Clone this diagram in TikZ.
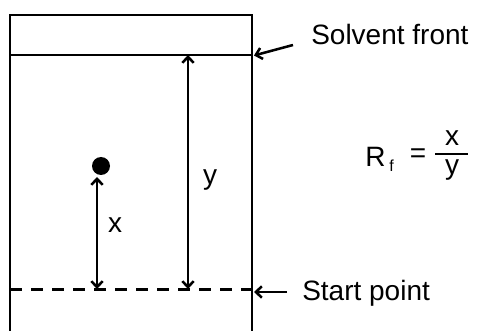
\documentclass[tikz,border=0pt]{standalone}
\usepackage{fontspec}
\setmainfont{Liberation Sans}
\usetikzlibrary{arrows.meta}
\begin{document}
\begin{tikzpicture}[x=0.75pt,y=-0.75pt,line width=1.9pt,
  lbl/.style={font=\fontsize{21}{24}\selectfont,inner sep=0pt},
  sublbl/.style={font=\fontsize{12}{14}\selectfont,inner sep=0pt},
  barb/.style={{Straight Barb[length=4.5pt,width=8.5pt]}-{Straight Barb[length=4.5pt,width=8.5pt]}},
  onebarb/.style={-{Straight Barb[length=4.5pt,width=8.5pt]}},
  startline/.style={line width=2.2pt,dash pattern=on 9pt off 6.75pt}]
\useasboundingbox (0,0) rectangle (481,331);
% plate
\coordinate (tl) at (10,15);
\coordinate (tr) at (252,15);
\coordinate (bl) at (10,331);
\coordinate (br) at (252,331);
\draw (bl) -- (tl) -- (tr) -- (br);
% solvent front line
\coordinate (fl) at (10,55);
\coordinate (fr) at (252,55);
\draw (fl) -- (fr);
% start line
\coordinate (sl) at (10,289.5);
\coordinate (sr) at (252,289.5);
\draw[startline] (sl) -- (sr);
% spot
\node[circle,fill,inner sep=0pt,minimum size=13.5pt] (spot) at (101,166) {};
% x arrow
\coordinate (xtop) at (97,177);
\coordinate (xbot) at (97,289);
\draw[barb] (xtop) -- (xbot);
\node[lbl,anchor=base] (xl) at (115,233) {x};
% y arrow
\coordinate (ytop) at (188,55);
\coordinate (ybot) at (188,289);
\draw[barb] (ytop) -- (ybot);
\node[lbl,anchor=base] (yl) at (210,185) {y};
% labels with arrows
\node[lbl,anchor=base west] (sf) at (310,45) {Solvent front};
\coordinate (sfa) at (293,45);
\coordinate (sfb) at (254,55.5);
\draw[onebarb] (sfa) -- (sfb);
\node[lbl,anchor=base west] (sp) at (301,300) {Start point};
\coordinate (spa) at (287,292);
\coordinate (spb) at (254,292);
\draw[onebarb] (spa) -- (spb);
% Rf = x/y
\node[lbl,anchor=base west] (R) at (364,167) {R};
\node[sublbl,anchor=base west] (f) at (388,172) {f};
\node[lbl,anchor=center] (eq) at (418,156) {=};
\coordinate (bara) at (435,154);
\coordinate (barb2) at (468,154);
\draw[line width=1.6pt] (bara) -- (barb2);
\node[lbl,anchor=base] (num) at (452,146) {x};
\node[lbl,anchor=base] (den) at (452,175) {y};
\end{tikzpicture}
\end{document}
